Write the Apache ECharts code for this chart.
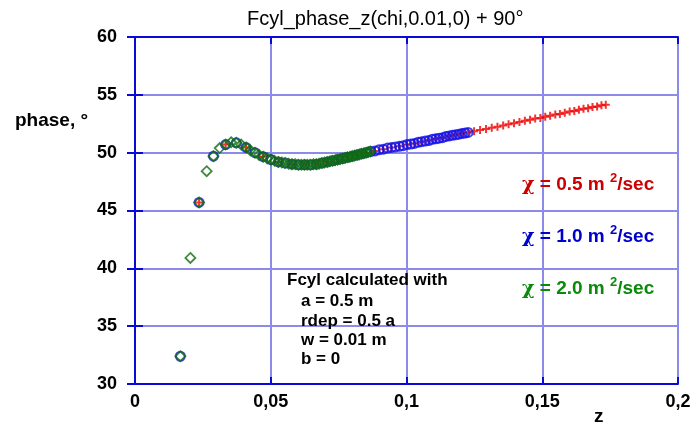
<!DOCTYPE html>
<html>
<head>
<meta charset="utf-8">
<script src="https://cdn.jsdelivr.net/npm/echarts@6/dist/echarts.min.js"></script>
<style>
html,body{margin:0;padding:0;background:#fff;}
#chart{width:696px;height:426px;}
</style>
</head>
<body>
<div id="chart"></div>
<script>
var titleText = 'Fcyl_phase_z(chi,0.01,0) + 90°';
var xTickLabels = ['0', '0,05', '0,1', '0,15', '0,2'];
var yTickLabels = ['30', '35', '40', '45', '50', '55', '60'];

var redZ = [0.0236,0.0334,0.0409,0.0472,0.0528,0.0578,0.0624,0.0668,0.0708,0.0746,0.0783,0.0818,0.0851,0.0883,0.0914,0.0944,0.0973,0.1001,0.1029,0.1055,0.1081,0.1107,0.1132,0.1156,0.1180,0.1203,0.1226,0.1249,0.1271,0.1293,0.1314,0.1335,0.1356,0.1376,0.1396,0.1416,0.1436,0.1455,0.1474,0.1493,0.1511,0.1529,0.1548,0.1565,0.1583,0.1601,0.1618,0.1635,0.1652,0.1669,0.1685,0.1702,0.1718,0.1734];
var redPhase = [45.7,50.7,50.45,49.65,49.2,49.0,48.95,49.0,49.2,49.4,49.6,49.8,50.0,50.15,50.3,50.45,50.55,50.7,50.8,50.95,51.05,51.2,51.3,51.45,51.55,51.65,51.75,51.85,51.95,52.05,52.15,52.25,52.35,52.45,52.55,52.65,52.75,52.85,52.95,53.0,53.1,53.2,53.3,53.35,53.45,53.55,53.6,53.7,53.8,53.85,53.95,54.0,54.1,54.15];

var blueZ = [0.0167,0.0236,0.0289,0.0334,0.0373,0.0409,0.0442,0.0472,0.0501,0.0528,0.0554,0.0578,0.0602,0.0625,0.0647,0.0668,0.0689,0.0709,0.0728,0.0747,0.0765,0.0783,0.0801,0.0818,0.0835,0.0852,0.0868,0.0884,0.0899,0.0915,0.0930,0.0945,0.0959,0.0974,0.0988,0.1002,0.1016,0.1029,0.1043,0.1056,0.1069,0.1082,0.1095,0.1108,0.1120,0.1133,0.1145,0.1157,0.1169,0.1181,0.1193,0.1204,0.1216,0.1227];
var bluePhase = [32.4,45.7,49.7,50.7,50.85,50.45,50.0,49.65,49.4,49.2,49.1,49.0,48.95,48.95,48.95,49.0,49.1,49.2,49.3,49.4,49.5,49.6,49.7,49.8,49.9,50.0,50.1,50.15,50.25,50.3,50.4,50.45,50.5,50.55,50.6,50.7,50.75,50.8,50.9,50.95,51.0,51.05,51.15,51.2,51.25,51.3,51.4,51.45,51.5,51.55,51.6,51.65,51.7,51.75];

var greenZ = [0.0167,0.0204,0.0236,0.0264,0.0289,0.0312,0.0334,0.0354,0.0373,0.0391,0.0409,0.0425,0.0442,0.0457,0.0472,0.0487,0.0501,0.0514,0.0528,0.0541,0.0553,0.0566,0.0578,0.0590,0.0602,0.0613,0.0624,0.0635,0.0646,0.0657,0.0668,0.0678,0.0688,0.0698,0.0708,0.0718,0.0727,0.0737,0.0746,0.0756,0.0765,0.0774,0.0783,0.0792,0.0800,0.0809,0.0818,0.0826,0.0834,0.0843,0.0851,0.0859,0.0867];
var greenPhase = [32.4,40.9,45.7,48.4,49.7,50.4,50.7,50.9,50.85,50.7,50.45,50.2,50.0,49.8,49.65,49.5,49.4,49.3,49.2,49.15,49.1,49.05,49.0,49.0,48.95,48.95,48.95,48.95,48.95,49.0,49.0,49.05,49.1,49.15,49.2,49.25,49.3,49.35,49.4,49.45,49.5,49.55,49.6,49.65,49.7,49.75,49.8,49.85,49.9,49.95,50.0,50.05,50.1];

var legendLabels = ['0.5', '1.0', '2.0'];
var noteLines = ['Fcyl calculated with', 'a = 0.5 m', 'rdep = 0.5 a', 'w = 0.01 m', 'b = 0'];

function pairs(xs, ys) { return xs.map(function (x, i) { return [x, ys[i]]; }); }

var AXIS_BLUE = '#0a0ad8';
var GRID_COL = '#8c8ce8';
var RED = '#ee0000', BLUE = '#1010e8', GREEN = '#0e6e0e';
var TXT_RED = '#cc0000', TXT_BLUE = '#0000cc', TXT_GREEN = '#0a8a0a';
var FONT = '"Liberation Sans", Arial, sans-serif';

var chart = echarts.init(document.getElementById('chart'), null, {renderer: 'canvas'});

function legendText(label, color, y) {
  return {
    type: 'text', left: 522, top: y - 12, z: 100,
    style: {
      text: '{c|χ} = ' + label + ' m {s|2}/sec',
      fill: color,
      font: 'bold 19px ' + FONT,
      rich: {
        c: {fontFamily: '"DejaVu Serif", serif', fontWeight: 'bold', fontSize: 19, lineHeight: 26, fill: color},
        s: {fontSize: 13, fontWeight: 'bold', lineHeight: 13, verticalAlign: 'top', fill: color, fontFamily: FONT}
      },
      lineHeight: 26
    }
  };
}

var graphics = [
  {type: 'text', left: 247, top: 9, z: 100, style: {text: titleText, fill: '#000', font: '20px ' + FONT}},
  {type: 'text', left: 15, top: 111, z: 100, style: {text: 'phase, °', fill: '#000', font: 'bold 19px ' + FONT}},
  {type: 'text', left: 594, top: 407, z: 100, style: {text: 'z', fill: '#000', font: 'bold 19px ' + FONT}},
  legendText(legendLabels[0], TXT_RED, 184),
  legendText(legendLabels[1], TXT_BLUE, 236),
  legendText(legendLabels[2], TXT_GREEN, 288)
];
var noteY = [281, 301.5, 321.5, 341, 360];
noteLines.forEach(function (t, i) {
  graphics.push({type: 'text', left: i === 0 ? 287 : 301, top: noteY[i] - 9, z: 100,
    style: {text: t, fill: '#000', font: 'bold 17px ' + FONT}});
});

var plusPath = 'path://M3,0H5V3H8V5H5V8H3V5H0V3H3Z';

var option = {
  animation: false,
  backgroundColor: '#fff',
  grid: {left: 135, top: 37, width: 543, height: 347, containLabel: false},
  xAxis: [
    {
      type: 'value', position: 'bottom', min: 0, max: 0.2, interval: 0.05,
      axisLine: {show: true, lineStyle: {color: AXIS_BLUE, width: 2}},
      axisTick: {show: true, inside: true, length: 7, lineStyle: {color: AXIS_BLUE, width: 2}},
      splitLine: {show: true, lineStyle: {color: GRID_COL, width: 2}},
      axisLabel: {
        margin: 9, color: '#000', fontWeight: 'bold', fontSize: 18, fontFamily: FONT,
        showMinLabel: true, showMaxLabel: true,
        formatter: function (v, i) { return xTickLabels[i]; }
      }
    },
    {
      type: 'value', position: 'top', min: 0, max: 0.2, interval: 0.05,
      axisLine: {show: true, lineStyle: {color: AXIS_BLUE, width: 2}},
      axisTick: {show: true, inside: true, length: 7, lineStyle: {color: AXIS_BLUE, width: 2}},
      splitLine: {show: false}, axisLabel: {show: false}
    }
  ],
  yAxis: [
    {
      type: 'value', position: 'left', min: 30, max: 60, interval: 5,
      axisLine: {show: true, lineStyle: {color: AXIS_BLUE, width: 2}},
      axisTick: {show: true, inside: true, length: 8, lineStyle: {color: AXIS_BLUE, width: 2}},
      splitLine: {show: true, lineStyle: {color: GRID_COL, width: 2}},
      axisLabel: {
        margin: 18, color: '#000', fontWeight: 'bold', fontSize: 18, fontFamily: FONT,
        formatter: function (v, i) { return yTickLabels[i]; }
      }
    },
    {
      type: 'value', position: 'right', min: 30, max: 60, interval: 5,
      axisLine: {show: true, lineStyle: {color: AXIS_BLUE, width: 2}},
      axisTick: {show: true, inside: true, length: 8, lineStyle: {color: AXIS_BLUE, width: 2}},
      splitLine: {show: false}, axisLabel: {show: false}
    }
  ],
  series: [
    {
      name: 'chi 0.5', type: 'scatter', xAxisIndex: 0, yAxisIndex: 0,
      data: pairs(redZ, redPhase), symbol: plusPath, symbolSize: 8,
      itemStyle: {color: RED}, z: 2
    },
    {
      name: 'chi 1.0', type: 'scatter', xAxisIndex: 0, yAxisIndex: 0,
      data: pairs(blueZ, bluePhase), symbol: 'circle', symbolSize: 9,
      itemStyle: {color: 'rgba(0,0,0,0)', borderColor: BLUE, borderWidth: 2}, z: 3
    },
    {
      name: 'chi 2.0', type: 'scatter', xAxisIndex: 0, yAxisIndex: 0,
      data: pairs(greenZ, greenPhase), symbol: 'diamond', symbolSize: 10,
      itemStyle: {color: 'rgba(0,0,0,0)', borderColor: GREEN, borderWidth: 1.8}, z: 4
    }
  ],
  graphic: graphics
};
chart.setOption(option);
</script>
</body>
</html>
